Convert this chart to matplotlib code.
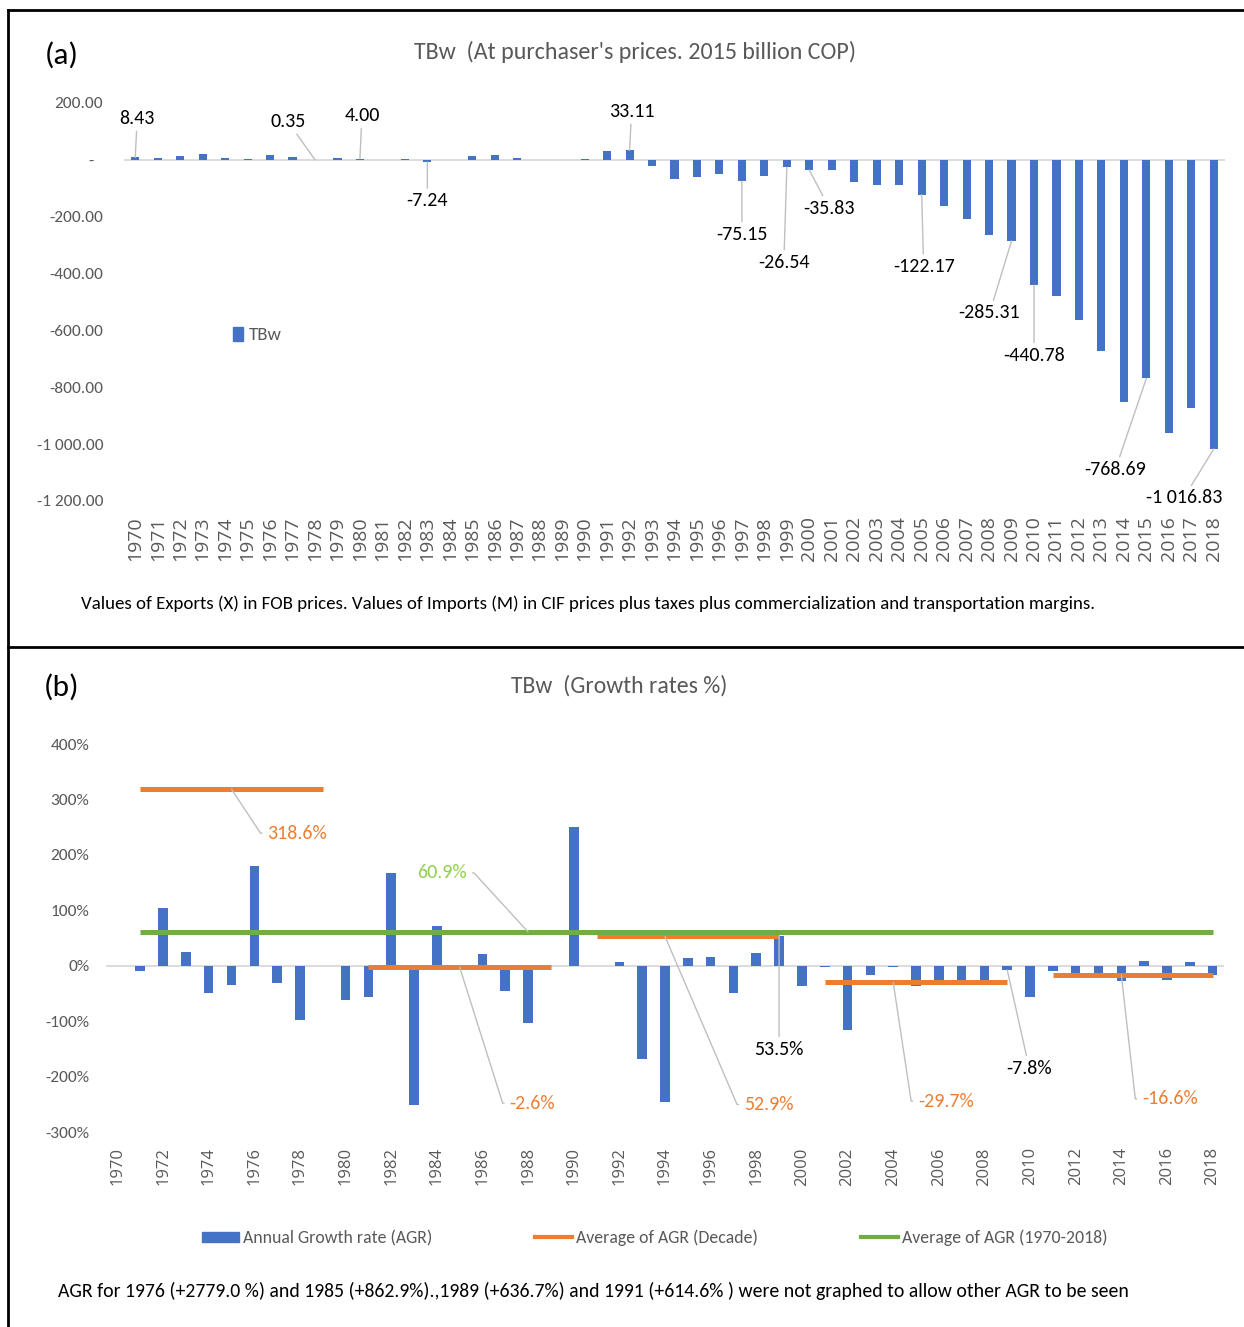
import matplotlib
matplotlib.use("Agg")
import matplotlib.pyplot as plt
import numpy as np
from matplotlib.lines import Line2D
from matplotlib.patches import Patch
from matplotlib.ticker import FuncFormatter
from matplotlib.textpath import TextPath
from matplotlib.font_manager import FontProperties

# ---------------- data ----------------
years = list(range(1970, 2019))

tbw = [8.43, 5, 14, 19, 8, 4, 17, 11, 0.35, 7,
       4.00, 0.5, 3, -7.24, -0.5, 14, 18, 7, -1, -1,
       2, 31, 33.11, -20, -69, -59, -50, -75.15, -57, -26.54,
       -35.83, -35, -77, -88, -90, -122.17, -161, -209, -263, -285.31,
       -440.78, -479, -562, -673, -853, -768.69, -962, -874, -1016.83]

nan = float('nan')
agr = [nan, -10, 104, 24, -50, -34, 179, -32, -98, nan,
       -61, -56, 167, -252, 72, nan, 22, -45, -104, nan,
       251, nan, 6, -168, -245, 14, 15, -50, 23, 53.5,
       -37, -3, -116, -17, -2, -37, -30, -30, -30, -7.8,
       -57, -10, -15, -15, -28, 9, -26, 7, -17]

decade_avg = [318.6, -2.6, 52.9, -29.7, -16.6]
decade_start = [1971, 1981, 1991, 2001, 2011]
decade_end = [1979, 1989, 1999, 2009, 2018]
overall_avg = 60.9
overall_start, overall_end = 1971, 2018

labeled_a = [1970, 1978, 1980, 1983, 1992, 1997, 1999, 2000, 2005, 2009, 2010, 2015, 2018]
labeled_b_bars = [1999, 2009]

title_a = "TBw  (At purchaser's prices. 2015 billion COP)"
title_b = "TBw  (Growth rates %)"
note_a = ("Values of Exports (X) in FOB prices. Values of Imports (M) in CIF prices "
          "plus taxes plus commercialization and transportation margins.")
note_b = ("AGR for 1976 (+2779.0 %) and 1985 (+862.9%).,1989 (+636.7%) and 1991 "
          "(+614.6% ) were not graphed to allow other AGR to be seen")
legend_b = ['Annual Growth rate (AGR)', 'Average of AGR (Decade)', 'Average of AGR (1970-2018)']

# ---------------- styling / layout ----------------
W, H, DPI = 1244, 1327, 100
NARROW = ['Carlito', 'DejaVu Sans']
WIDE = ['Open Sans', 'DejaVu Sans']
GRAY = '#595959'
BLUE = '#4472C4'
ORANGE = '#ED7D31'
GREEN = '#70AD47'
LGREEN = '#92D050'
LEAD = '#BFBFBF'


def fx(x):
    return x / W


def fy(y):
    return 1 - y / H


def axrect(l, t, r, b):
    return [l / W, 1 - b / H, (r - l) / W, (b - t) / H]


def fit_size(s, target_px, family=NARROW, base=20.0):
    fp = FontProperties(family=family, size=base)
    w = TextPath((0, 0), s, prop=fp).get_extents().width * DPI / 72.0
    return base * target_px / w


fig = plt.figure(figsize=(W / DPI, H / DPI), dpi=DPI)

# borders
for xs, ys in [((8, 8), (10, 1327)), ((8, 1244), (10, 10)), ((8, 1244), (647, 647))]:
    fig.add_artist(Line2D([fx(xs[0]), fx(xs[1])], [fy(ys[0]), fy(ys[1])],
                          transform=fig.transFigure, color='black', lw=2))

# ---------------- panel (a) ----------------
ax1 = fig.add_axes(axrect(124, 103, 1225, 501))
ax1.bar(years, tbw, width=0.36, color=BLUE, zorder=2, label='TBw')
ax1.axhline(0, color='#D9D9D9', lw=1.3, zorder=1)
ax1.set_xlim(1969.5, 2018.5)
ax1.set_ylim(-1200, 200)
for s in ax1.spines.values():
    s.set_visible(False)
ax1.set_yticks(np.arange(-1200, 201, 200))


def fmt_a(v, pos=None):
    if abs(v) < 1e-9:
        return '-'
    return f"{v:,.2f}".replace(",", " ")


def fmt_tick_a(v, pos=None):
    s = fmt_a(v)
    return s + "\u2007" if s == '-' else s


ax1.yaxis.set_major_formatter(FuncFormatter(fmt_tick_a))
ax1.set_xticks(years)
ax1.set_xticklabels([str(y) for y in years], rotation=90)
ax1.tick_params(axis='x', length=0, pad=11, labelsize=14, labelcolor=GRAY)
ax1.tick_params(axis='y', length=0, pad=15, labelsize=12.4, labelcolor=GRAY)
for t in ax1.get_xticklabels():
    t.set_fontfamily(WIDE)
for t in ax1.get_yticklabels():
    t.set_fontfamily(NARROW)

offs_a = [(2, 39), (-27, 38), (2, 43), (0, -39), (2, 39), (0, -53), (-3, -95),
          (20, -38), (2, -72), (-22, -72), (0, -70), (-31, -91), (-30, -49)]
for yr, off in zip(labeled_a, offs_a):
    v = tbw[years.index(yr)]
    ax1.annotate(fmt_a(v), xy=(yr, v), xytext=off, textcoords='offset pixels',
                 ha='center', va='center', fontsize=14.4, family=NARROW, color='black',
                 arrowprops=dict(arrowstyle='-', color=LEAD, lw=1, shrinkA=1, shrinkB=0))

fig.text(fx(635), fy(52), title_a, ha='center', va='center',
         fontsize=fit_size(title_a, 440), family=NARROW, color=GRAY)
fig.text(fx(62), fy(55), "(a)", ha='center', va='center', fontsize=22.5,
         family=NARROW, color='black')
fig.text(fx(588), fy(604), note_a, ha='center', va='center',
         fontsize=fit_size(note_a, 1017), family=NARROW, color='black')

ax1.legend(handles=[Patch(color=BLUE, label='TBw')], loc='center left',
           bbox_to_anchor=(fx(233), fy(335)), bbox_transform=fig.transFigure,
           frameon=False, borderpad=0, borderaxespad=0, handlelength=0.55,
           handleheight=0.75, handletextpad=0.3,
           prop={'family': NARROW, 'size': 13.5}, labelcolor=GRAY)

# ---------------- panel (b) ----------------
ax2 = fig.add_axes(axrect(106, 744, 1224, 1132))
ax2.bar(years, agr, width=0.42, color=BLUE, zorder=2)
ax2.axhline(0, color='#D9D9D9', lw=1.3, zorder=1)
ax2.hlines(decade_avg, decade_start, decade_end, colors=ORANGE, lw=3.6,
           zorder=3, capstyle='butt')
ax2.hlines(overall_avg, overall_start, overall_end, colors=GREEN, lw=3.6,
           zorder=3, capstyle='butt')
ax2.set_xlim(1969.5, 2018.5)
ax2.set_ylim(-300, 400)
for s in ax2.spines.values():
    s.set_visible(False)
ax2.set_yticks(np.arange(-300, 401, 100))
ax2.yaxis.set_major_formatter(FuncFormatter(lambda v, p: f"{int(round(v))}%"))
even_years = years[::2]
ax2.set_xticks(even_years)
ax2.set_xticklabels([str(y) for y in even_years], rotation=90)
ax2.tick_params(axis='x', length=0, pad=11, labelsize=12, labelcolor=GRAY)
ax2.tick_params(axis='y', length=0, pad=12, labelsize=12.5, labelcolor=GRAY)
for t in ax2.get_xticklabels():
    t.set_fontfamily(WIDE)
for t in ax2.get_yticklabels():
    t.set_fontfamily(NARROW)

# decade labels with elbow leaders
dec_anchor_years = [1975, 1985, 1994, 2004, 2014]
dec_offs = [(36, -44), (50, -136), (79, -168), (25, -119), (21, -124)]
for v, ay, off in zip(decade_avg, dec_anchor_years, dec_offs):
    ax2.annotate(f"{v}%", xy=(ay, v), xytext=off, textcoords='offset pixels',
                 ha='left', va='center', fontsize=14.4, family=NARROW, color=ORANGE,
                 arrowprops=dict(arrowstyle='-', color=LEAD, lw=1, shrinkA=2, shrinkB=0,
                                 relpos=(0, 0.5),
                                 connectionstyle="arc,angleA=180,armA=7,angleB=0,armB=0,rad=0"))

ax2.annotate(f"{overall_avg}%", xy=(1988, overall_avg), xytext=(-61, 59),
             textcoords='offset pixels', ha='right', va='center', fontsize=14.4,
             family=NARROW, color=LGREEN,
             arrowprops=dict(arrowstyle='-', color=LEAD, lw=1, shrinkA=2, shrinkB=0,
                             relpos=(1, 0.5),
                             connectionstyle="arc,angleA=0,armA=7,angleB=0,armB=0,rad=0"))

bar_offs = [(0, -113), (22, -98)]
for yr, off in zip(labeled_b_bars, bar_offs):
    v = agr[years.index(yr)]
    ax2.annotate(f"{v}%", xy=(yr, v), xytext=off, textcoords='offset pixels',
                 ha='center', va='center', fontsize=14.4, family=NARROW, color='black',
                 arrowprops=dict(arrowstyle='-', color=LEAD, lw=1, shrinkA=1, shrinkB=0))

fig.text(fx(619), fy(686), title_b, ha='center', va='center',
         fontsize=fit_size(title_b, 214), family=NARROW, color=GRAY)
fig.text(fx(62), fy(687), "(b)", ha='center', va='center', fontsize=22.5,
         family=NARROW, color='black')

leg_size = fit_size(legend_b[0], 188)
leg_handles = [Patch(color=BLUE, label=legend_b[0]),
               Line2D([], [], color=ORANGE, lw=3, label=legend_b[1]),
               Line2D([], [], color=GREEN, lw=3, label=legend_b[2])]
ax2.legend(handles=leg_handles, loc='center', ncol=3,
           bbox_to_anchor=(fx(655), fy(1238)), bbox_transform=fig.transFigure,
           frameon=False, borderpad=0, borderaxespad=0, handlelength=2.05,
           handleheight=0.57, handletextpad=0.25, columnspacing=5.8,
           prop={'family': NARROW, 'size': leg_size}, labelcolor=GRAY)

fig.text(fx(593), fy(1291), note_b, ha='center', va='center',
         fontsize=fit_size(note_b, 1070), family=NARROW, color='black')

fig.savefig("out.png", dpi=DPI)
